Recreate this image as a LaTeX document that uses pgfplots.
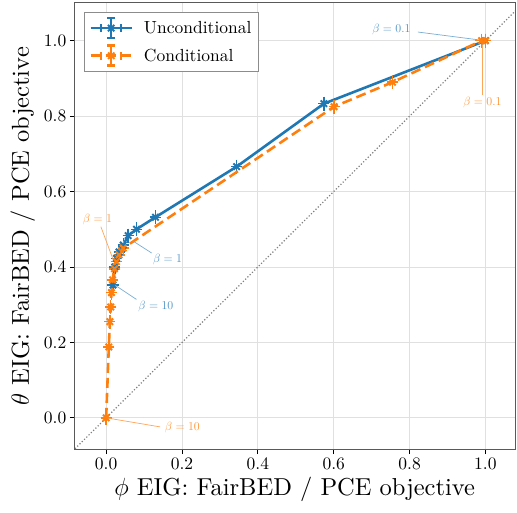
\documentclass[border=0pt]{standalone}
\usepackage{fontspec}
\setmainfont{lmroman10-regular.otf}[BoldFont=lmroman10-bold.otf, ItalicFont=lmroman10-italic.otf]
\usepackage{pgfplots}
\pgfplotsset{compat=1.18}
\definecolor{mblue}{HTML}{1F77B4}
\definecolor{morange}{HTML}{FF7F0E}
\begin{document}
\begin{tikzpicture}
\begin{axis}[
  scale only axis,
  width=440.7pt, height=446.5pt,
  xmin=-0.084, xmax=1.078, ymin=-0.084, ymax=1.10,
  xtick={0,0.2,0.4,0.6,0.8,1.0},
  ytick={0,0.2,0.4,0.6,0.8,1.0},
  xticklabel style={/pgf/number format/.cd,fixed,fixed zerofill,precision=1},
  yticklabel style={/pgf/number format/.cd,fixed,fixed zerofill,precision=1},
  /pgf/number format/assume math mode=true,
  tick label style={font=\fontsize{17.5}{21}\selectfont},
  label style={font=\fontsize{24.5}{29}\selectfont},
  xlabel={$\phi$ EIG: FairBED / PCE objective},
  ylabel={$\theta$ EIG: FairBED / PCE objective},
  ylabel style={yshift=2pt},
  grid=major,
  major grid style={draw=black!12, line width=0.9pt},
  axis line style={draw=black!65, line width=1pt},
  tick align=outside, tick pos=left,
  major tick length=4.5pt,
  tick style={black, line width=0.8pt},
  legend style={font=\fontsize{17.5}{21}\selectfont, draw=black!45, line width=0.8pt,
    at={(axis description cs:0.022,0.980)}, anchor=north west, inner xsep=5pt, inner ysep=4.5pt, row sep=5pt, column sep=9pt},
  legend cell align=left,
  legend image code/.code={
    \draw[#1] (0pt,0pt) -- (41pt,0pt);
    \draw[#1,solid] (20.5pt,-10pt) -- (20.5pt,10pt);
    \draw[#1,solid] (16.5pt,10pt) -- (24.5pt,10pt);
    \draw[#1,solid] (16.5pt,-10pt) -- (24.5pt,-10pt);
    \draw[#1,solid] (10.5pt,-4pt) -- (10.5pt,4pt);
    \draw[#1,solid] (30.5pt,-4pt) -- (30.5pt,4pt);
    \draw[#1,solid] plot coordinates {(20.5pt,0pt)};
  },
  error bars/error bar style={line width=1.4pt},
  error bars/error mark options={line width=1.4pt, mark size=4pt},
]
\coordinate (sw) at (rel axis cs:0,0);
\addplot[gray, dotted, line width=1.2pt, forget plot] coordinates {(-0.1,-0.1) (1.1,1.1)};

\addplot[mblue, solid, line width=2.6pt, mark=x, mark size=4.5pt, mark options={solid, line width=2pt},
  error bars/.cd, x dir=both, y dir=both, x explicit, y explicit] coordinates {
  (0.018,0.352) +- (0.004,0.008)
  (0.023,0.400) +- (0.004,0.008)
  (0.027,0.423) +- (0.004,0.008)
  (0.034,0.440) +- (0.004,0.008)
  (0.045,0.458) +- (0.004,0.008)
  (0.058,0.483) +- (0.004,0.008)
  (0.080,0.500) +- (0.004,0.008)
  (0.130,0.532) +- (0.004,0.008)
  (0.344,0.666) +- (0.004,0.008)
  (0.574,0.833) +- (0.004,0.008)
  (1.000,1.000) +- (0.004,0.008)
};
\addlegendentry{Unconditional}

\addplot[morange, dashed, dash pattern=on 10pt off 5pt, line width=2.6pt, mark=x, mark size=4.5pt, mark options={solid, line width=2pt},
  error bars/.cd, x dir=both, y dir=both, x explicit, y explicit] coordinates {
  (0.000,0.000) +- (0.004,0.008)
  (0.007,0.188) +- (0.004,0.008)
  (0.010,0.255) +- (0.004,0.008)
  (0.012,0.294) +- (0.004,0.008)
  (0.014,0.332) +- (0.004,0.008)
  (0.017,0.366) +- (0.004,0.008)
  (0.022,0.395) +- (0.004,0.008)
  (0.027,0.414) +- (0.004,0.008)
  (0.034,0.432) +- (0.004,0.008)
  (0.045,0.450) +- (0.004,0.008)
  (0.601,0.825) +- (0.004,0.008)
  (0.755,0.890) +- (0.004,0.008)
  (0.990,1.000) +- (0.008,0.008)
  (1.000,1.000) +- (0.004,0.008)
};
\addlegendentry{Conditional}

% annotations
\draw[mblue!60, line width=0.7pt] (axis cs:0.822,1.023) -- (axis cs:1.0,1.0);
\node[mblue!80, font=\fontsize{13}{15}\selectfont] at (axis cs:0.752,1.031) {$\beta=0.1$};
\draw[mblue!60, line width=0.7pt] (axis cs:0.120,0.437) -- (axis cs:0.072,0.468);
\node[mblue!80, font=\fontsize{13}{15}\selectfont] at (axis cs:0.162,0.421) {$\beta=1$};
\draw[mblue!60, line width=0.7pt] (axis cs:0.080,0.314) -- (axis cs:0.023,0.352);
\node[mblue!80, font=\fontsize{13}{15}\selectfont] at (axis cs:0.131,0.296) {$\beta=10$};

\draw[morange!70, line width=0.7pt] (axis cs:0.992,0.856) -- (axis cs:0.992,1.0);
\node[morange!85, font=\fontsize{13}{15}\selectfont] at (axis cs:0.992,0.835) {$\beta=0.1$};
\draw[morange!70, line width=0.7pt] (axis cs:-0.014,0.507) -- (axis cs:0.019,0.418);
\node[morange!85, font=\fontsize{13}{15}\selectfont] at (axis cs:-0.023,0.527) {$\beta=1$};
\draw[morange!70, line width=0.7pt] (axis cs:0.142,-0.024) -- (axis cs:0.0,0.0);
\node[morange!85, font=\fontsize{13}{15}\selectfont] at (axis cs:0.201,-0.026) {$\beta=10$};
\end{axis}
\pgfresetboundingbox
\path (sw) ++(-74.3pt,-62.5pt) rectangle ++(517pt,512pt);
\end{tikzpicture}
\end{document}
